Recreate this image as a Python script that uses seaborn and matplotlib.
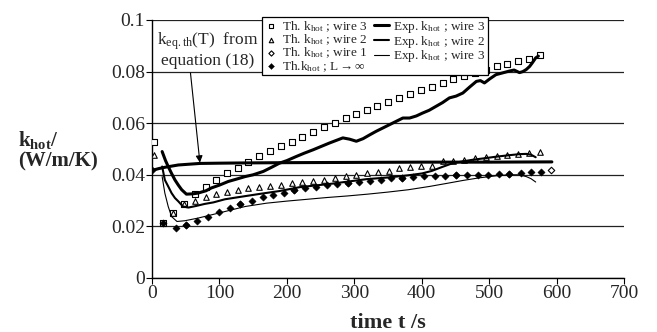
import numpy as np
import pandas as pd
import matplotlib
matplotlib.use("Agg")
import matplotlib.pyplot as plt
import seaborn as sns
from matplotlib.ticker import FuncFormatter

# theoretical k_hot, wire 3 (open squares)
t_w3 = [3, 16, 31, 48, 64, 80, 95, 111, 127, 143, 159, 175, 191, 207, 222, 239, 255, 271, 287,
        303, 319, 334, 350, 367, 383, 399, 415, 431, 447, 463, 479, 495, 511, 526, 543, 559, 575]
k_w3 = [0.0529, 0.0212, 0.0253, 0.0288, 0.0324, 0.0352, 0.0380, 0.0407, 0.0428, 0.0450, 0.0471,
        0.0491, 0.0510, 0.0528, 0.0548, 0.0566, 0.0584, 0.0600, 0.0619, 0.0636, 0.0651, 0.0667,
        0.0683, 0.0697, 0.0713, 0.0728, 0.0742, 0.0755, 0.0770, 0.0782, 0.0795, 0.0808, 0.0820,
        0.0830, 0.0840, 0.0847, 0.0865]

# theoretical k_hot, wire 2 (open triangles)
t_w2 = [3, 31, 48, 64, 80, 95, 111, 127, 143, 159, 175, 191, 207, 223, 239, 255, 271, 287,
        303, 319, 335, 351, 367, 383, 399, 415, 431, 447, 463, 479, 495, 511, 526, 543, 559, 575]
k_w2 = [0.0478, 0.0250, 0.0285, 0.0300, 0.0314, 0.0325, 0.0333, 0.0341, 0.0347, 0.0351, 0.0357,
        0.0362, 0.0368, 0.0372, 0.0377, 0.0380, 0.0386, 0.0394, 0.0399, 0.0405, 0.0410, 0.0416,
        0.0426, 0.0430, 0.0433, 0.0435, 0.0452, 0.0453, 0.0458, 0.0465, 0.0469, 0.0472, 0.0476,
        0.0480, 0.0484, 0.0490]

# theoretical k_hot, L -> infinity (filled diamonds)
t_inf = [0, 17, 35, 51, 67, 83, 99, 115, 131, 148, 164, 180, 195, 211, 227, 243, 259, 275, 291,
         307, 323, 339, 355, 371, 387, 403, 419, 435, 451, 467, 483, 499, 515, 530, 547, 562, 577]
k_inf = [0.0417, 0.0212, 0.0193, 0.0204, 0.0222, 0.0238, 0.0256, 0.0272, 0.0288, 0.0300, 0.0313,
         0.0323, 0.0331, 0.0340, 0.0347, 0.0353, 0.0359, 0.0364, 0.0370, 0.0372, 0.0376, 0.0380,
         0.0387, 0.0388, 0.0391, 0.0394, 0.0396, 0.0397, 0.0399, 0.0400, 0.0400, 0.0401, 0.0403,
         0.0404, 0.0407, 0.0409, 0.0410]

# theoretical k_hot, wire 1 (open diamonds, mostly hidden under L->inf)
t_w1 = [51, 131, 211, 291, 371, 451, 530, 592]
k_w1 = [0.0204, 0.0288, 0.0340, 0.0370, 0.0388, 0.0399, 0.0404, 0.0417]

# experimental curves
t_e3 = [15, 20, 24, 29, 34, 39, 44, 51, 60, 68, 80, 88, 100, 113, 125, 138, 150, 165, 178, 189,
        200, 214, 226, 239, 251, 263, 273, 283, 293, 303, 313, 323, 332, 342, 352, 362, 372, 382,
        392, 401, 411, 421, 431, 441, 451, 461, 471, 481, 487, 493, 501, 510, 520, 530, 537, 545,
        550, 555, 560, 564, 569, 573]
k_e3 = [0.0490, 0.0455, 0.0432, 0.0405, 0.0380, 0.0360, 0.0342, 0.0325, 0.0326, 0.0329, 0.0338,
        0.0349, 0.0360, 0.0374, 0.0383, 0.0393, 0.0400, 0.0413, 0.0430, 0.0445, 0.0455, 0.0471,
        0.0484, 0.0497, 0.0510, 0.0523, 0.0533, 0.0543, 0.0538, 0.0530, 0.0540, 0.0555, 0.0568,
        0.0581, 0.0594, 0.0607, 0.0620, 0.0620, 0.0628, 0.0639, 0.0650, 0.0665, 0.0680, 0.0698,
        0.0705, 0.0717, 0.0740, 0.0762, 0.0765, 0.0756, 0.0772, 0.0788, 0.0795, 0.0802, 0.0806,
        0.0796, 0.0800, 0.0808, 0.0820, 0.0834, 0.0853, 0.0860]

t_e2 = [15, 19, 24, 29, 34, 39, 46, 54, 65, 78, 91, 108, 125, 140, 160, 189, 219, 265, 318, 352,
        380, 400, 415, 430, 446, 461, 475, 490, 510, 530, 545, 555, 562, 569]
k_e2 = [0.0432, 0.0380, 0.0355, 0.0329, 0.0310, 0.0297, 0.0277, 0.0273, 0.0279, 0.0287, 0.0293,
        0.0305, 0.0312, 0.0318, 0.0326, 0.0337, 0.0352, 0.0365, 0.0383, 0.0390, 0.0398, 0.0405,
        0.0415, 0.0430, 0.0445, 0.0452, 0.0458, 0.0463, 0.0470, 0.0476, 0.0480, 0.0481, 0.0478,
        0.0468]

t_e1 = [15, 19, 24, 29, 37, 49, 68, 98, 138, 170, 200, 230, 260, 290, 320, 350, 380, 412, 440,
        461, 485, 510, 530, 545, 555, 562, 569]
k_e1 = [0.0393, 0.0329, 0.0277, 0.0238, 0.0219, 0.0222, 0.0232, 0.0251, 0.0277, 0.0290, 0.0298,
        0.0305, 0.0312, 0.0318, 0.0325, 0.0333, 0.0342, 0.0355, 0.0368, 0.0378, 0.0388, 0.0396,
        0.0400, 0.0400, 0.0393, 0.0385, 0.0372]

# k_eq.th(T) from equation (18)
t_eq = [0, 10, 19, 30, 39, 55, 71, 100, 138, 200, 300, 400, 500, 593]
k_eq = [0.0417, 0.0424, 0.0429, 0.0434, 0.0438, 0.0441, 0.0444, 0.0445, 0.0446, 0.0447, 0.0448,
        0.0449, 0.0449, 0.0450]

sns.set_style("white")
plt.rcParams['font.family'] = ['Liberation Serif', 'DejaVu Serif']
plt.rcParams['mathtext.fontset'] = 'custom'
plt.rcParams['mathtext.rm'] = 'Liberation Serif'
plt.rcParams['mathtext.it'] = 'Liberation Serif:italic'
plt.rcParams['mathtext.bf'] = 'Liberation Serif:bold'

fig = plt.figure(figsize=(6.57, 3.32), dpi=100)
ax = fig.add_axes([0.2314, 0.1627, 0.7184, 0.7771])

ax.set_xlim(0, 700)
ax.set_ylim(0, 0.1)
ax.set_yticks([0, 0.02, 0.04, 0.06, 0.08, 0.1])
ax.set_xticks(range(0, 701, 100))
ax.yaxis.set_major_formatter(FuncFormatter(lambda v, p: '%g' % round(v, 3)))
ax.yaxis.grid(True, color='#222222', lw=0.9)
ax.set_axisbelow(True)
for s in ['top', 'right']:
    ax.spines[s].set_visible(False)
for s in ['left', 'bottom']:
    ax.spines[s].set_color('black')
    ax.spines[s].set_linewidth(1.0)
ax.tick_params(axis='both', direction='out', length=4, width=0.8, color='black',
               labelsize=14, pad=1, bottom=True, left=True)

open_kw = dict(facecolor='white', edgecolor='black', linewidth=0.8, ax=ax, zorder=3)
sns.scatterplot(x=t_w1, y=k_w1, marker='D', s=11, label='Th. k$_{\\rm hot}$ ; wire 1', **open_kw)
sns.scatterplot(x=t_w3, y=k_w3, marker='s', s=17, label='Th. k$_{\\rm hot}$ ; wire 3', **open_kw)
sns.scatterplot(x=t_w2, y=k_w2, marker='^', s=16, label='Th. k$_{\\rm hot}$ ; wire 2', **open_kw)
sns.scatterplot(x=t_inf, y=k_inf, marker='D', s=14, color='black', edgecolor='black',
                label='Th.k$_{\\rm hot}$ ; L$\\rightarrow\\infty$', ax=ax, zorder=4)

sns.lineplot(x=t_eq, y=k_eq, color='black', lw=2.2, sort=False, estimator=None, ax=ax, zorder=5)
sns.lineplot(x=t_e3, y=k_e3, color='black', lw=2.2, sort=False, estimator=None, ax=ax, zorder=5,
             label='Exp. k$_{\\rm hot}$ ; wire 3')
sns.lineplot(x=t_e2, y=k_e2, color='black', lw=1.5, sort=False, estimator=None, ax=ax, zorder=5,
             label='Exp. k$_{\\rm hot}$ ; wire 2')
sns.lineplot(x=t_e1, y=k_e1, color='black', lw=0.8, sort=False, estimator=None, ax=ax, zorder=5,
             label='Exp. k$_{\\rm hot}$ ; wire 3 ')

handles, labels = ax.get_legend_handles_labels()
order = [1, 2, 0, 3, 4, 5, 6]
leg = ax.legend([handles[i] for i in order], [labels[i] for i in order], ncol=2,
                loc='upper left', bbox_to_anchor=(0.233, 1.012), fontsize=9.5,
                frameon=True, fancybox=False, framealpha=1, edgecolor='black',
                borderpad=0.15, labelspacing=-0.1, handletextpad=0.3, columnspacing=0.5,
                handlelength=1.1, borderaxespad=0, markerscale=0.8)
leg.get_frame().set_linewidth(0.9)
leg.set_zorder(10)

ax.text(82, 0.0885, 'k$_{\\rm eq.th}$(T)  from\nequation (18)', ha='center', va='center',
        fontsize=12.5, linespacing=1.1)
ax.annotate('', xy=(71, 0.0447), xytext=(57, 0.0795),
            arrowprops=dict(arrowstyle='-|>', color='black', lw=0.8, shrinkA=0, shrinkB=0,
                            mutation_scale=10))

ax.set_xlabel('time t /s', fontsize=16, fontweight='bold', labelpad=8)
ax.set_ylabel('')
fig.text(0.027, 0.548, 'k$_{\\bf hot}$/\n(W/m/K)', fontsize=15, fontweight='bold',
         ha='left', va='center', linespacing=1.0)

fig.savefig('out.png', dpi=100)
